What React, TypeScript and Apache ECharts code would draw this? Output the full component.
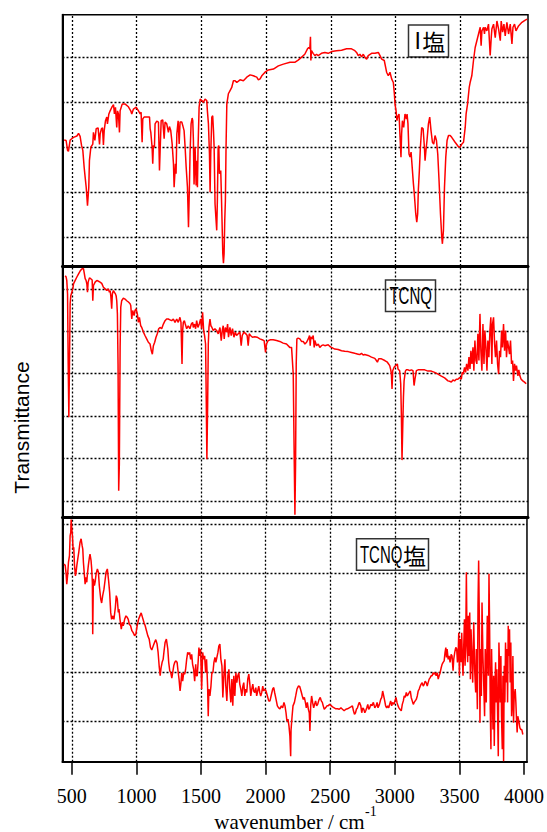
import React, { useEffect, useRef } from "react";
import * as echarts from "echarts";

// Spectrum panels: [wavenumber (cm-1), transmittance (arbitrary units)]
const iSaltSpectrum: [number, number][] = [
  [441,3.16],[456,3.15],[467,2.93],[474,2.91],[487,3.16],[513,3.22],[539,3.25],[552,3.31],[564,3.24],[575,3.04],[585,2.93],[595,2.56],[603,2.33],[611,2.11],[621,1.70],[631,2.11],[636,2.70],[647,3.00],[662,3.07],[667,3.33],[678,3.15],[688,3.41],[703,3.43],[714,3.06],[719,3.30],[729,3.41],[737,3.43],[744,3.05],[750,3.37],[760,3.59],[770,3.67],[775,3.52],[786,3.74],[796,3.81],[809,3.89],[822,3.95],[829,3.74],[837,3.89],[847,3.44],[853,3.81],[860,3.74],[868,3.33],[873,3.81],[889,3.96],[912,3.96],[937,3.90],[955,3.81],[963,3.74],[976,3.85],[997,3.89],[1015,3.81],[1028,3.74],[1035,3.78],[1043,3.11],[1048,3.63],[1058,3.67],[1084,3.67],[1100,3.67],[1105,3.41],[1110,3.33],[1120,3.00],[1125,2.63],[1130,3.04],[1138,3.00],[1143,3.52],[1156,3.58],[1169,3.56],[1177,2.48],[1182,2.93],[1190,3.59],[1202,3.61],[1213,3.19],[1220,3.56],[1233,3.52],[1246,3.33],[1254,3.46],[1264,3.37],[1275,3.07],[1285,2.63],[1290,2.11],[1300,2.63],[1305,2.41],[1311,3.30],[1321,3.59],[1329,3.07],[1336,3.56],[1349,3.56],[1357,3.48],[1367,3.37],[1375,3.00],[1383,2.56],[1393,2.11],[1401,1.22],[1408,2.11],[1413,2.85],[1421,3.52],[1429,3.65],[1434,3.59],[1439,3.15],[1444,2.17],[1452,3.00],[1460,2.15],[1465,2.70],[1470,2.11],[1475,3.00],[1483,3.89],[1491,4.07],[1504,4.04],[1516,4.00],[1529,4.07],[1542,4.04],[1547,3.81],[1555,3.52],[1563,2.85],[1568,2.00],[1573,2.85],[1581,3.67],[1588,3.70],[1594,3.37],[1599,3.00],[1606,1.74],[1614,1.37],[1619,1.15],[1624,1.81],[1630,3.00],[1635,3.04],[1640,2.41],[1650,2.48],[1655,1.96],[1660,1.37],[1666,0.63],[1671,0.42],[1676,0.63],[1681,1.37],[1686,1.81],[1691,3.00],[1697,3.96],[1709,4.19],[1722,4.26],[1735,4.33],[1748,4.48],[1761,4.48],[1774,4.44],[1799,4.50],[1825,4.48],[1851,4.56],[1877,4.61],[1902,4.59],[1928,4.56],[1941,4.50],[1954,4.52],[1967,4.59],[1992,4.67],[2018,4.72],[2057,4.74],[2095,4.81],[2134,4.85],[2185,4.89],
  [2222,4.89],[2248,4.94],[2273,5.00],[2299,5.07],[2320,5.19],[2330,5.22],[2338,5.19],[2343,5.46],[2346,4.93],[2351,5.15],[2364,5.09],[2377,5.04],[2390,5.07],[2402,5.04],[2428,5.09],[2454,5.11],[2480,5.09],[2506,5.13],[2544,5.15],[2583,5.16],[2622,5.19],[2660,5.19],[2686,5.15],[2699,5.11],[2712,5.04],[2725,5.07],[2738,5.01],[2751,5.07],[2764,5.00],[2777,4.96],[2789,5.04],[2815,5.09],[2841,5.09],[2867,5.11],[2880,5.04],[2893,4.96],[2913,4.93],[2931,4.67],[2944,4.59],[2957,4.67],[2970,4.52],[2983,4.44],[2991,4.19],[2996,3.96],[3004,3.81],[3011,3.59],[3016,3.67],[3027,3.74],[3035,3.22],[3042,2.78],[3047,3.30],[3053,3.59],[3063,3.44],[3073,3.74],[3084,3.63],[3089,3.74],[3096,3.52],[3104,2.85],[3112,2.78],[3120,2.89],[3125,2.70],[3138,2.19],[3145,1.96],[3156,1.52],[3164,1.33],[3171,1.52],[3176,2.04],[3184,2.48],[3192,3.00],[3202,3.44],[3213,3.41],[3223,3.00],[3228,2.70],[3236,2.96],[3243,3.15],[3254,3.52],[3264,3.67],[3274,3.37],[3285,3.11],[3295,3.07],[3305,3.26],[3316,3.15],[3326,2.85],[3336,2.26],[3347,1.52],[3357,1.00],[3362,0.85],[3370,1.15],[3378,2.11],[3388,2.78],[3398,3.15],[3409,3.26],[3422,3.26],[3434,3.22],[3460,3.11],[3486,3.01],[3499,3.00],[3512,3.07],[3525,3.11],[3538,3.44],[3545,3.74],[3556,3.96],[3569,4.33],[3576,4.44],[3589,4.59],[3602,4.93],[3615,5.22],[3628,5.37],[3641,5.52],[3654,5.67],[3661,5.26],[3667,5.59],[3680,5.67],[3687,5.52],[3692,5.67],[3705,5.59],[3718,5.74],[3731,5.04],[3739,5.44],[3744,5.63],[3757,5.74],[3770,5.44],[3783,5.81],[3796,5.63],[3809,5.37],[3816,5.81],[3827,5.56],[3837,5.74],[3847,5.48],[3860,5.78],[3873,5.52],[3886,5.74],[3899,5.30],[3907,5.67],[3919,5.74],[3930,5.59],[3950,5.70],[3976,5.78],[4002,5.83],[4017,5.85]
];

const tcnqSpectrum: [number, number][] = [
  [449,6.31],[456,6.28],[461,6.20],[467,5.88],[472,4.23],[477,2.97],[482,4.23],[487,5.65],[492,5.84],[500,5.92],[508,6.00],[513,6.12],[526,6.20],[539,6.28],[551,6.35],[564,6.42],[577,6.47],[590,6.48],[595,6.39],[603,6.24],[610,6.20],[616,6.12],[621,5.92],[626,6.16],[636,6.26],[646,6.24],[657,6.21],[662,5.72],[667,6.08],[680,6.16],[693,6.20],[706,6.18],[718,6.16],[731,6.13],[744,6.04],[757,6.00],[770,5.96],[783,6.00],[790,5.92],[796,5.96],[801,5.84],[808,5.53],[813,5.88],[821,5.96],[829,5.92],[837,5.88],[842,5.84],[847,5.72],[852,5.41],[857,4.23],[862,1.24],[867,1.87],[873,4.62],[878,5.57],[885,5.72],[898,5.78],[911,5.76],[924,5.72],[937,5.69],[950,5.65],[955,5.61],[963,5.29],[970,5.49],[981,5.37],[988,5.49],[996,5.53],[1006,5.41],[1014,5.21],[1022,5.33],[1032,5.13],[1040,5.09],[1053,4.98],[1065,4.90],[1078,4.82],[1091,4.74],[1104,4.70],[1114,4.54],[1122,4.46],[1130,4.66],[1140,4.74],[1150,4.86],[1160,4.94],[1171,5.06],[1181,5.09],[1194,5.06],[1207,5.17],[1220,5.25],[1232,5.29],[1245,5.29],[1258,5.27],[1271,5.25],[1284,5.29],[1297,5.21],[1310,5.29],[1322,5.21],[1335,5.33],[1343,5.21],[1351,4.23],[1356,5.02],[1361,5.21],[1369,5.25],[1376,5.17],[1387,5.06],[1399,5.13],[1412,5.06],[1423,5.17],[1433,5.21],[1438,5.09],[1448,5.17],[1456,5.06],[1464,5.25],[1474,5.09],[1484,5.17],[1495,5.29],[1502,5.06],[1510,5.45],[1518,5.02],[1525,4.90],[1533,4.70],[1538,3.44],[1543,1.98],[1549,3.28],[1554,4.70],[1559,5.09],[1567,5.29],[1574,5.13],[1582,5.09],[1592,5.02],[1605,5.06],[1618,5.02],[1631,4.94],[1644,5.09],[1654,4.78],[1662,5.02],[1669,5.13],[1677,4.82],[1685,5.09],[1695,4.98],[1703,5.17],[1710,4.86],[1721,5.09],[1731,4.90],[1741,5.06],[1752,4.86],[1762,4.98],[1772,4.90],[1785,4.94],[1798,4.98],[1808,4.66],[1816,4.90],[1829,4.98],[1844,4.94],[1854,4.90],[1862,4.66],[1870,4.94],[1880,4.90],[1895,4.86],[1913,4.87],[1931,4.86],[1952,4.82],[1970,4.80],[1985,4.78],[1996,4.50],[2003,4.70],[2016,4.78],[2034,4.80],[2055,4.80],[2081,4.78],[2106,4.76],[2132,4.72],[2158,4.70],[2183,4.62],
  [2197,4.62],[2210,3.99],[2218,1.87],[2223,0.67],[2228,1.87],[2233,4.23],[2238,4.82],[2248,4.84],[2261,4.82],[2274,4.76],[2287,4.76],[2300,4.70],[2313,4.74],[2326,4.82],[2336,4.90],[2341,4.66],[2346,4.87],[2356,4.82],[2364,4.90],[2372,4.62],[2377,4.78],[2390,4.66],[2403,4.70],[2415,4.62],[2428,4.66],[2441,4.68],[2454,4.66],[2480,4.68],[2493,4.64],[2505,4.62],[2531,4.58],[2557,4.57],[2583,4.54],[2608,4.53],[2634,4.52],[2660,4.50],[2685,4.48],[2711,4.46],[2724,4.45],[2737,4.48],[2750,4.44],[2762,4.45],[2788,4.43],[2814,4.39],[2840,4.36],[2852,4.31],[2860,4.27],[2870,4.35],[2891,4.35],[2917,4.31],[2937,4.27],[2955,4.19],[2963,4.09],[2968,3.99],[2973,3.64],[2978,4.07],[2989,4.15],[3001,4.19],[3014,4.23],[3019,4.11],[3032,4.07],[3040,3.76],[3045,3.05],[3050,1.96],[3055,2.65],[3061,3.44],[3066,3.83],[3076,4.06],[3084,4.09],[3097,4.09],[3109,4.07],[3122,4.09],[3135,4.07],[3143,3.72],[3150,3.87],[3161,4.07],[3174,4.09],[3199,4.09],[3225,4.09],[3251,4.06],[3276,4.06],[3302,4.03],[3328,3.99],[3354,3.94],[3379,3.90],[3405,3.83],[3418,3.82],[3431,3.80],[3443,3.85],[3456,3.83],[3469,3.87],[3482,3.87],[3495,3.91],[3508,3.87],[3515,4.03],[3523,3.99],[3533,4.15],[3541,4.03],[3549,4.23],[3559,4.07],[3567,4.39],[3575,4.11],[3582,4.54],[3590,4.23],[3598,4.62],[3605,4.07],[3613,4.78],[3621,4.31],[3628,4.23],[3636,4.94],[3644,4.31],[3652,5.41],[3659,4.54],[3667,4.07],[3675,5.17],[3683,4.23],[3690,5.02],[3698,4.62],[3706,4.07],[3713,4.78],[3721,4.39],[3729,5.02],[3736,5.33],[3744,4.23],[3749,5.17],[3757,5.33],[3765,4.70],[3772,4.39],[3780,4.78],[3788,4.23],[3796,3.99],[3803,4.54],[3811,4.39],[3819,5.02],[3826,4.62],[3834,5.17],[3842,4.54],[3850,5.02],[3857,4.39],[3865,4.78],[3873,4.62],[3880,4.46],[3888,4.78],[3896,4.23],[3904,4.31],[3911,3.83],[3919,4.23],[3927,4.07],[3934,4.19],[3945,3.95],[3952,4.09],[3960,3.95],[3970,3.87],[3983,3.83],[3996,3.80],[4009,3.76]
];

const tcnqSaltSpectrum: [number, number][] = [
  [441,4.19],[449,4.16],[456,3.99],[461,3.78],[467,3.95],[474,4.22],[482,4.36],[487,4.76],[492,4.83],[495,5.09],[500,4.90],[505,4.76],[510,4.49],[515,4.53],[521,4.16],[528,3.95],[533,4.02],[539,4.16],[546,4.29],[554,4.43],[564,4.63],[572,4.70],[580,4.56],[585,4.49],[590,4.22],[595,4.05],[603,3.78],[608,3.92],[616,3.82],[621,3.99],[628,4.16],[636,4.32],[641,4.39],[649,4.26],[654,4.09],[659,3.82],[662,2.77],[667,3.89],[675,3.75],[682,3.85],[688,3.99],[698,4.09],[706,4.02],[713,3.75],[724,3.48],[731,3.40],[739,3.55],[749,3.68],[757,3.85],[765,4.02],[775,4.09],[785,3.85],[793,3.61],[801,3.21],[808,3.07],[816,3.14],[826,3.07],[837,3.31],[844,3.55],[852,3.48],[860,3.21],[865,3.28],[873,3.07],[883,2.87],[891,3.01],[898,2.94],[909,3.07],[919,3.14],[929,3.11],[937,3.07],[945,2.97],[955,2.94],[965,2.84],[975,2.80],[986,2.74],[996,2.77],[1006,2.94],[1017,3.07],[1027,3.14],[1037,3.20],[1047,3.11],[1058,3.01],[1068,2.94],[1078,2.84],[1088,2.74],[1099,2.67],[1109,2.50],[1119,2.45],[1130,2.53],[1140,2.60],[1150,2.66],[1160,2.57],[1168,2.40],[1176,2.13],[1184,1.93],[1191,2.09],[1199,2.20],[1207,2.26],[1214,2.43],[1222,2.60],[1232,2.67],[1243,2.47],[1250,2.20],[1258,2.03],[1266,1.99],[1274,1.88],[1281,1.99],[1289,2.13],[1297,2.20],[1304,2.23],[1315,2.20],[1322,2.03],[1330,1.86],[1338,1.62],[1345,1.79],[1351,1.99],[1358,1.82],[1366,1.99],[1374,1.96],[1381,2.06],[1389,2.26],[1397,2.40],[1405,2.36],[1412,2.40],[1420,2.26],[1428,2.36],[1435,2.16],[1443,2.06],[1451,1.82],[1459,2.16],[1464,1.93],[1471,1.93],[1479,2.26],[1484,2.50],[1489,2.33],[1497,2.47],[1505,1.66],[1513,2.40],[1520,2.26],[1528,2.33],[1536,1.99],[1543,2.26],[1551,1.72],[1556,1.11],[1561,1.66],[1569,1.52],[1577,1.72],[1584,1.99],[1592,1.99],[1600,2.20],[1608,2.30],[1615,2.20],[1623,2.30],[1631,2.40],[1638,2.53],[1646,2.57],[1654,2.26],[1662,2.13],[1669,1.49],[1677,1.93],[1685,2.26],[1692,1.72],[1700,1.42],[1708,1.93],[1716,2.06],[1723,1.66],[1731,1.39],[1739,1.86],[1746,1.32],[1754,1.93],[1762,1.52],[1770,1.99],[1777,1.79],[1785,1.93],[1793,1.99],[1800,1.76],[1808,1.66],[1816,1.52],[1824,1.72],[1831,1.79],[1839,1.52],[1847,1.66],[1854,1.59],[1862,1.86],[1870,1.96],[1877,1.79],[1885,1.52],[1893,1.66],[1901,1.76],[1908,1.62],[1916,1.59],[1924,1.69],[1931,1.52],[1939,1.62],[1947,1.72],[1955,1.59],[1962,1.52],[1970,1.59],[1978,1.72],[1985,1.62],[1993,1.66],[2003,1.62],[2014,1.52],[2024,1.42],[2034,1.42],[2045,1.55],[2055,1.66],[2063,1.69],[2070,1.59],[2081,1.45],[2091,1.32],[2101,1.28],[2111,1.26],[2122,1.32],[2132,1.28],[2142,1.39],[2150,1.32],[2158,1.18],[2165,1.01],[2173,1.05],[2181,0.91],[2188,0.71],[2194,0.30],
  [2197,0.84],[2205,1.11],[2212,1.32],[2223,1.39],[2233,1.52],[2243,1.66],[2254,1.72],[2264,1.71],[2274,1.62],[2284,1.52],[2292,1.45],[2300,1.49],[2308,1.39],[2315,1.28],[2323,1.39],[2331,1.25],[2338,1.18],[2343,0.81],[2349,1.32],[2356,1.52],[2364,1.39],[2372,1.28],[2379,1.35],[2387,1.42],[2395,1.32],[2403,1.35],[2413,1.44],[2423,1.49],[2431,1.42],[2439,1.39],[2446,1.32],[2454,1.25],[2464,1.28],[2475,1.32],[2485,1.32],[2495,1.35],[2505,1.33],[2518,1.30],[2531,1.28],[2544,1.26],[2557,1.26],[2570,1.25],[2583,1.28],[2595,1.25],[2608,1.22],[2621,1.25],[2634,1.26],[2647,1.28],[2660,1.30],[2672,1.32],[2680,1.22],[2688,1.15],[2696,1.18],[2703,1.25],[2711,1.28],[2719,1.35],[2726,1.39],[2737,1.32],[2744,1.18],[2752,1.28],[2760,1.25],[2768,1.18],[2775,1.22],[2783,1.28],[2791,1.35],[2798,1.25],[2806,1.28],[2814,1.35],[2824,1.32],[2834,1.39],[2845,1.28],[2855,1.32],[2863,1.39],[2870,1.28],[2881,1.35],[2891,1.45],[2899,1.49],[2906,1.62],[2914,1.52],[2922,1.42],[2929,1.32],[2937,1.28],[2945,1.32],[2953,1.28],[2960,1.35],[2968,1.42],[2976,1.32],[2983,1.39],[2994,1.35],[3001,1.42],[3009,1.49],[3017,1.39],[3025,1.32],[3032,1.28],[3040,1.25],[3050,1.22],[3058,1.35],[3066,1.42],[3073,1.52],[3081,1.49],[3089,1.59],[3097,1.52],[3104,1.55],[3112,1.59],[3120,1.62],[3127,1.49],[3135,1.42],[3143,1.35],[3150,1.39],[3158,1.42],[3166,1.45],[3174,1.52],[3181,1.62],[3189,1.66],[3197,1.72],[3204,1.76],[3212,1.79],[3220,1.72],[3228,1.76],[3235,1.82],[3243,1.79],[3251,1.72],[3258,1.79],[3266,1.86],[3274,1.89],[3282,1.93],[3289,1.93],[3297,1.99],[3305,1.96],[3312,1.99],[3320,1.93],[3328,1.99],[3336,1.86],[3343,1.93],[3351,1.99],[3359,2.09],[3366,2.16],[3374,2.20],[3382,2.23],[3389,2.40],[3395,2.50],[3400,2.30],[3405,2.47],[3413,2.26],[3420,2.33],[3428,2.20],[3436,2.36],[3443,2.33],[3451,2.03],[3456,2.26],[3464,2.40],[3472,2.50],[3479,2.47],[3485,2.20],[3490,2.33],[3495,2.80],[3500,1.93],[3505,2.67],[3513,2.20],[3518,2.80],[3523,2.26],[3528,1.93],[3533,2.47],[3539,3.07],[3544,2.13],[3549,2.60],[3554,4.02],[3559,2.60],[3564,2.20],[3569,3.14],[3575,2.33],[3580,3.21],[3585,1.86],[3590,2.87],[3595,2.47],[3603,1.79],[3611,3.01],[3618,2.06],[3626,1.59],[3631,2.47],[3639,1.25],[3644,3.34],[3649,4.26],[3654,3.14],[3659,0.98],[3664,2.47],[3670,1.52],[3675,3.41],[3682,2.33],[3688,1.79],[3695,1.11],[3700,2.47],[3708,1.39],[3716,3.14],[3724,1.93],[3729,3.99],[3734,2.87],[3739,1.25],[3744,0.44],[3749,2.47],[3754,1.66],[3760,0.84],[3765,1.93],[3770,0.51],[3775,1.66],[3780,2.20],[3785,1.39],[3790,2.06],[3796,1.11],[3801,0.30],[3806,2.60],[3811,2.06],[3816,1.39],[3821,2.33],[3826,1.11],[3832,0.44],[3837,1.93],[3842,0.20],[3847,2.13],[3852,1.39],[3857,2.60],[3862,1.79],[3868,2.47],[3873,1.39],[3878,2.94],[3883,2.33],[3888,2.87],[3893,1.79],[3898,2.60],[3904,1.11],[3909,1.39],[3914,2.33],[3919,0.98],[3924,1.52],[3932,1.66],[3937,1.39],[3942,1.05],[3947,0.78],[3952,1.11],[3960,1.01],[3968,0.88],[3975,0.84],[3983,0.84],[3991,0.74]
];

// Panel labels: Latin part and CJK part
const panelLabelLatin = ["I", "TCNQ", "TCNQ"];
const panelLabelCjk = ["塩", "", "塩"];
const xTickValues = [500, 1000, 1500, 2000, 2500, 3000, 3500, 4000];
const xGridValues = [500, 1000, 1500, 2000, 2500, 3000, 3500];
const yGridTop = [1, 2, 3, 4, 5];
const yGridMid = [1, 2, 3, 4, 5, 6];
const yGridBot = [1, 2, 3, 4, 5];

const X_MIN = 428;
const X_MAX = 4023;

const serif = "Liberation Serif, Times New Roman, serif";
const sans = "Liberation Sans, Arial, sans-serif";
const cjk = "Noto Sans CJK JP, sans-serif";

export default function App() {
  const ref = useRef<HTMLDivElement>(null);

  useEffect(() => {
    if (!ref.current) return;
    const chart = echarts.init(ref.current, undefined, { renderer: "svg" });

    const panels = [
      { top: 14.7, height: 251.3, min: 0.356, max: 5.95, data: iSaltSpectrum, yg: yGridTop },
      { top: 266, height: 251.5, min: 0.606, max: 6.54, data: tcnqSpectrum, yg: yGridMid },
      { top: 517.5, height: 244.2, min: 0.19, max: 5.13, data: tcnqSaltSpectrum, yg: yGridBot },
    ];

    const grid = panels.map((p) => ({
      left: 62.5,
      width: 465.5,
      top: p.top,
      height: p.height,
      show: true,
      borderColor: "#000",
      borderWidth: 1.5,
      backgroundColor: "transparent",
    }));

    const xAxis = panels.map((p, i) => {
      const last = i === panels.length - 1;
      return {
        type: "value",
        gridIndex: i,
        min: X_MIN,
        max: X_MAX,
        splitLine: { show: false },
        axisLine: { show: true, onZero: false, lineStyle: { color: "#000", width: last ? 2 : 3 } },
        axisTick: {
          show: last,
          customValues: xTickValues,
          length: 13,
          inside: false,
          lineStyle: { color: "#000", width: 1.5 },
        },
        axisLabel: {
          show: last,
          customValues: xTickValues,
          formatter: (v: number) => String(v),
          margin: 24,
          color: "#000",
          fontSize: 20,
          fontFamily: serif,
        },
      };
    });

    const yAxis = panels.map((p, i) => ({
      type: "value",
      gridIndex: i,
      min: p.min,
      max: p.max,
      splitLine: { show: false },
      axisLine: { show: true, onZero: false, lineStyle: { color: "#000", width: 2 } },
      axisTick: { show: false },
      axisLabel: { show: false },
    }));

    const series = panels.map((p, i) => ({
      type: "line",
      xAxisIndex: i,
      yAxisIndex: i,
      data: p.data,
      showSymbol: false,
      symbol: "none",
      z: 3,
      lineStyle: { color: "#ff0000", width: 1.5 },
      markLine: {
        silent: true,
        z: 1,
        symbol: ["none", "none"],
        label: { show: false },
        emphasis: { disabled: true },
        lineStyle: { color: "#000", type: [2, 2], width: 1.3 },
        data: [
          ...xGridValues.map((v) => ({ xAxis: v })),
          ...p.yg.map((v) => ({ yAxis: v })),
        ],
      },
    }));

    // Box with a narrow Latin part followed by a CJK part
    const labelBox = (
      bx: number, by: number, bw: number, bh: number,
      textX: number, latin: string, latinScale: number, cjkText: string, cjkX: number
    ) => {
      const cy = by + bh / 2;
      const children: any[] = [
        {
          type: "rect",
          shape: { x: bx, y: by, width: bw, height: bh },
          style: { fill: "#fff", stroke: "#333", lineWidth: 1.5 },
        },
        {
          type: "text",
          x: textX,
          y: cy,
          scaleX: latinScale,
          style: {
            text: latin,
            align: "left",
            verticalAlign: "middle",
            fontSize: 23,
            fontFamily: sans,
            fill: "#000",
          },
        },
      ];
      if (cjkText) {
        children.push({
          type: "text",
          x: cjkX,
          y: cy,
          style: {
            text: cjkText,
            align: "left",
            verticalAlign: "middle",
            fontSize: 23,
            fontFamily: cjk,
            fill: "#000",
          },
        });
      }
      return { type: "group", z: 10, children };
    };

    chart.setOption({
      animation: false,
      backgroundColor: "#fff",
      grid,
      xAxis,
      yAxis,
      series,
      graphic: [
        labelBox(408.5, 25, 40, 32, 414.5, panelLabelLatin[0], 1, panelLabelCjk[0], 422.2),
        labelBox(385.5, 280, 50, 31.5, 389.5, panelLabelLatin[1], 0.65, panelLabelCjk[1], 0),
        labelBox(356.5, 538.7, 72, 31.6, 360, panelLabelLatin[2], 0.65, panelLabelCjk[2], 403),
        {
          type: "text",
          x: 21,
          y: 427.5,
          rotation: Math.PI / 2,
          style: {
            text: "Transmittance",
            align: "center",
            verticalAlign: "middle",
            fontSize: 21,
            fontFamily: sans,
            fill: "#000",
          },
        },
        {
          type: "text",
          x: 364.7,
          y: 821.5,
          style: {
            text: "wavenumber / cm",
            align: "right",
            verticalAlign: "middle",
            fontSize: 21,
            fontFamily: serif,
            fill: "#000",
          },
        },
        {
          type: "text",
          x: 365,
          y: 811,
          style: {
            text: "-1",
            align: "left",
            verticalAlign: "middle",
            fontSize: 14,
            fontFamily: serif,
            fill: "#000",
          },
        },
      ],
    });

    return () => chart.dispose();
  }, []);

  return (
    <div
      ref={ref}
      style={{ position: "absolute", left: 0, top: 0, width: 547, height: 832, background: "#fff" }}
    />
  );
}
